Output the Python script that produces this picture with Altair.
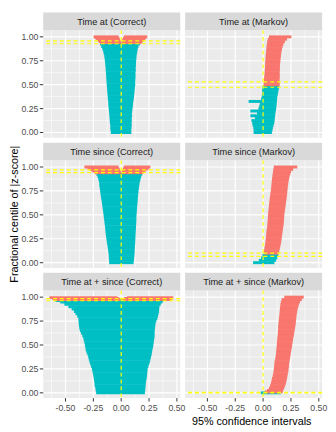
import altair as alt
import pandas as pd

# ---------------- data ----------------
PANELS = [
    "Time at (Correct)", "Time at (Markov)",
    "Time since (Correct)", "Time since (Markov)",
    "Time at + since (Correct)", "Time at + since (Markov)",
]
TRUE_VALUE = [0.0]

# Time at (Correct)
at_c_cent = [0.000, 0.025, 0.050, 0.075, 0.100, 0.125, 0.150, 0.175, 0.200, 0.225,
             0.250, 0.275, 0.300, 0.325, 0.350, 0.375, 0.400, 0.425, 0.450, 0.475,
             0.500, 0.525, 0.550, 0.575, 0.600, 0.625, 0.650, 0.675, 0.700, 0.725,
             0.750, 0.775, 0.800, 0.825, 0.850, 0.875, 0.900, 0.925,
             0.940, 0.940, 0.950, 0.950, 0.960, 0.960, 0.970, 0.970, 0.980, 0.980,
             0.990, 0.990, 1.000, 1.000]
at_c_lo = [-0.093, -0.096, -0.098, -0.097, -0.101, -0.103, -0.104, -0.106, -0.108, -0.110,
           -0.112, -0.114, -0.116, -0.117, -0.120, -0.121, -0.123, -0.125, -0.126, -0.128,
           -0.130, -0.131, -0.133, -0.134, -0.135, -0.137, -0.139, -0.140, -0.142, -0.144,
           -0.146, -0.149, -0.152, -0.157, -0.162, -0.170, -0.180, -0.189,
           -0.190, 0.003, -0.200, 0.006, -0.208, 0.009, -0.216, 0.012, -0.225, 0.016,
           -0.236, 0.020, -0.248, 0.026]
at_c_hi = [0.091, 0.090, 0.092, 0.094, 0.093, 0.095, 0.094, 0.097, 0.096, 0.099,
           0.101, 0.104, 0.106, 0.109, 0.112, 0.115, 0.117, 0.119, 0.121, 0.123,
           0.126, 0.125, 0.127, 0.128, 0.129, 0.128, 0.131, 0.130, 0.132, 0.133,
           0.134, 0.136, 0.138, 0.141, 0.145, 0.149, 0.155, 0.168,
           -0.003, 0.180, -0.006, 0.190, -0.009, 0.198, -0.012, 0.206, -0.016, 0.214,
           -0.020, 0.223, -0.026, 0.234]
at_c_cov = [0.928, 0.957]

# Time at (Markov)
at_m_cent = [0.000, 0.025, 0.050, 0.075, 0.100, 0.125, 0.150, 0.175, 0.200, 0.225,
             0.250, 0.275, 0.300, 0.325, 0.350, 0.375, 0.400, 0.425, 0.450, 0.475,
             0.500, 0.525, 0.550, 0.575, 0.600, 0.625, 0.650, 0.675, 0.700, 0.725,
             0.750, 0.775, 0.800, 0.825, 0.850, 0.875, 0.900, 0.925, 0.950, 0.975,
             1.000]
at_m_lo = [-0.085, -0.085, -0.088, -0.094, -0.098, -0.105, -0.073, -0.114, -0.055, -0.114,
           -0.042, -0.035, -0.029, -0.130, -0.018, -0.012, -0.010, -0.009, -0.008, -0.006,
           0.004, 0.006, 0.008, 0.010, 0.012, 0.014, 0.016, 0.017, 0.018, 0.019,
           0.020, 0.022, 0.023, 0.025, 0.027, 0.029, 0.031, 0.034, 0.037, 0.042,
           0.053]
at_m_hi = [0.079, 0.084, 0.088, 0.094, 0.100, 0.103, 0.105, 0.108, 0.110, 0.114,
           0.117, 0.120, 0.122, 0.124, 0.126, 0.128, 0.132, 0.136, 0.140, 0.145,
           0.149, 0.149, 0.148, 0.149, 0.150, 0.149, 0.150, 0.151, 0.152, 0.153,
           0.155, 0.157, 0.160, 0.162, 0.166, 0.170, 0.176, 0.184, 0.196, 0.215,
           0.254]
at_m_cov = [0.473, 0.530]

# Time since (Correct)
since_c_cent = [0.000, 0.025, 0.050, 0.075, 0.100, 0.125, 0.150, 0.175, 0.200, 0.225,
                0.250, 0.275, 0.300, 0.325, 0.350, 0.375, 0.400, 0.425, 0.450, 0.475,
                0.500, 0.525, 0.550, 0.575, 0.600, 0.625, 0.650, 0.675, 0.700, 0.725,
                0.750, 0.775, 0.800, 0.825, 0.850, 0.875, 0.900, 0.925,
                0.940, 0.940, 0.950, 0.950, 0.960, 0.960, 0.970, 0.970, 0.980, 0.980,
                0.990, 0.990, 1.000, 1.000]
since_c_lo = [-0.108, -0.109, -0.111, -0.112, -0.114, -0.117, -0.120, -0.123, -0.127, -0.130,
              -0.133, -0.136, -0.139, -0.141, -0.143, -0.145, -0.148, -0.150, -0.153, -0.156,
              -0.158, -0.161, -0.164, -0.167, -0.170, -0.173, -0.176, -0.180, -0.183, -0.186,
              -0.189, -0.192, -0.195, -0.197, -0.200, -0.206, -0.213, -0.222,
              -0.236, 0.003, -0.248, 0.006, -0.260, 0.009, -0.272, 0.013, -0.287, 0.017,
              -0.302, 0.021, -0.330, 0.026]
since_c_hi = [0.111, 0.114, 0.116, 0.118, 0.120, 0.121, 0.122, 0.123, 0.125, 0.126,
              0.127, 0.128, 0.129, 0.130, 0.132, 0.133, 0.134, 0.135, 0.136, 0.136,
              0.137, 0.139, 0.141, 0.142, 0.144, 0.146, 0.148, 0.149, 0.151, 0.153,
              0.155, 0.158, 0.161, 0.164, 0.168, 0.174, 0.180, 0.188,
              -0.003, 0.196, -0.006, 0.205, -0.009, 0.215, -0.013, 0.227, -0.017, 0.238,
              -0.021, 0.249, -0.026, 0.262]
since_c_cov = [0.941, 0.970]

# Time since (Markov)
since_m_cent = [0.000, 0.025, 0.050, 0.075, 0.100, 0.125, 0.150, 0.175, 0.200, 0.225,
                0.250, 0.275, 0.300, 0.325, 0.350, 0.375, 0.400, 0.425, 0.450, 0.475,
                0.500, 0.525, 0.550, 0.575, 0.600, 0.625, 0.650, 0.675, 0.700, 0.725,
                0.750, 0.775, 0.800, 0.825, 0.850, 0.875, 0.900, 0.925, 0.950, 0.975,
                1.000]
since_m_lo = [-0.090, -0.038, -0.018, -0.006, 0.004, 0.009, 0.012, 0.016, 0.020, 0.022,
              0.024, 0.026, 0.028, 0.030, 0.033, 0.036, 0.038, 0.040, 0.042, 0.043,
              0.044, 0.046, 0.049, 0.051, 0.053, 0.055, 0.058, 0.060, 0.063, 0.066,
              0.069, 0.072, 0.074, 0.076, 0.078, 0.080, 0.083, 0.086, 0.089, 0.092,
              0.096]
since_m_hi = [0.102, 0.117, 0.128, 0.136, 0.141, 0.146, 0.150, 0.155, 0.160, 0.163,
              0.166, 0.169, 0.172, 0.175, 0.178, 0.181, 0.184, 0.186, 0.188, 0.189,
              0.190, 0.193, 0.196, 0.199, 0.202, 0.205, 0.208, 0.211, 0.214, 0.216,
              0.218, 0.220, 0.222, 0.225, 0.228, 0.232, 0.237, 0.244, 0.252, 0.270,
              0.307]
since_m_cov = [0.066, 0.099]

# Time at + since (Correct)
both_c_cent = [0.000, 0.025, 0.050, 0.075, 0.100, 0.125, 0.150, 0.175, 0.200, 0.225,
               0.250, 0.275, 0.300, 0.325, 0.350, 0.375, 0.400, 0.425, 0.450, 0.475,
               0.500, 0.525, 0.550, 0.575, 0.600, 0.625, 0.650, 0.675, 0.700, 0.725,
               0.750, 0.775, 0.800, 0.825, 0.850, 0.875, 0.900, 0.925, 0.950, 0.965,
               0.975, 0.975, 0.985, 0.985, 0.995, 0.995]
both_c_lo = [-0.225, -0.228, -0.232, -0.238, -0.240, -0.243, -0.246, -0.250, -0.254, -0.258,
             -0.263, -0.270, -0.278, -0.285, -0.291, -0.296, -0.303, -0.312, -0.319, -0.322,
             -0.326, -0.330, -0.336, -0.341, -0.350, -0.362, -0.371, -0.376, -0.379, -0.381,
             -0.383, -0.384, -0.395, -0.410, -0.424, -0.445, -0.474, -0.510, -0.547, -0.590,
             -0.600, 0.006, -0.620, 0.025, -0.645, 0.053]
both_c_hi = [0.213, 0.215, 0.217, 0.219, 0.221, 0.224, 0.228, 0.231, 0.233, 0.235,
             0.237, 0.244, 0.251, 0.258, 0.262, 0.268, 0.273, 0.277, 0.280, 0.285,
             0.289, 0.291, 0.294, 0.298, 0.300, 0.300, 0.301, 0.303, 0.306, 0.308,
             0.315, 0.324, 0.330, 0.335, 0.340, 0.341, 0.343, 0.355, 0.370, 0.378,
             -0.008, 0.445, -0.018, 0.458, -0.035, 0.468]
both_c_cov = [0.962, 0.985]

# Time at + since (Markov)
both_m_cent = [0.000, 0.010, 0.025, 0.050, 0.075, 0.100, 0.125, 0.150, 0.175, 0.200,
               0.225, 0.250, 0.275, 0.300, 0.325, 0.350, 0.375, 0.400, 0.425, 0.450,
               0.475, 0.500, 0.525, 0.550, 0.575, 0.600, 0.625, 0.650, 0.675, 0.700,
               0.725, 0.750, 0.775, 0.800, 0.825, 0.850, 0.875, 0.900, 0.925, 0.950,
               0.975, 1.000]
both_m_lo = [-0.020, 0.015, 0.035, 0.053, 0.063, 0.070, 0.075, 0.080, 0.086, 0.091,
             0.094, 0.097, 0.099, 0.101, 0.103, 0.108, 0.112, 0.115, 0.117, 0.119,
             0.121, 0.123, 0.124, 0.126, 0.128, 0.131, 0.133, 0.134, 0.135, 0.136,
             0.138, 0.140, 0.142, 0.145, 0.147, 0.149, 0.151, 0.153, 0.156, 0.160,
             0.167, 0.190]
both_m_hi = [0.160, 0.175, 0.180, 0.190, 0.198, 0.205, 0.210, 0.214, 0.218, 0.222,
             0.226, 0.229, 0.231, 0.233, 0.236, 0.240, 0.244, 0.247, 0.250, 0.254,
             0.258, 0.261, 0.264, 0.268, 0.271, 0.276, 0.279, 0.283, 0.286, 0.290,
             0.293, 0.295, 0.297, 0.299, 0.302, 0.306, 0.310, 0.316, 0.322, 0.332,
             0.348, 0.365]
both_m_cov = [0.000, 0.006]

# axis ticks and labels
X_MAJOR = [-0.5, -0.25, 0.0, 0.25, 0.5]
X_LABELS = ["-0.50", "-0.25", "0.00", "0.25", "0.50"]
X_MINOR = [-0.625, -0.375, -0.125, 0.125, 0.375]
Y_MAJOR = [0.0, 0.25, 0.5, 0.75, 1.0]
Y_LABELS = ["0.00", "0.25", "0.50", "0.75", "1.00"]
Y_MINOR = [0.125, 0.375, 0.625, 0.875]
X_TITLE = "95% confidence intervals"
Y_TITLE = "Fractional centile of |z-score|"

# ---------------- styling ----------------
W, H, STRIP = 140, 110, 18
FONT = "Liberation Sans"
RED, TEAL, YELLOW = "#F8766D", "#00BFC4", "#FFFF00"
XDOM = [-0.70, 0.53]
YDOM = [-0.055, 1.07]


def panel(idx, cent, lo, hi, cov):
    assert len(cent) == len(lo) == len(hi)
    row, col = divmod(idx, 2)
    name = PANELS[idx]
    df = pd.DataFrame({"cent": cent, "lo": lo, "hi": hi})
    df["status"] = ["Covers" if (a <= 0 <= b) else "Misses" for a, b in zip(lo, hi)]
    xs = alt.Scale(domain=XDOM, nice=False, zero=False)
    ys = alt.Scale(domain=YDOM, nice=False, zero=False)
    xmaj = pd.DataFrame({"v": X_MAJOR, "lab": X_LABELS})
    ymaj = pd.DataFrame({"v": Y_MAJOR, "lab": Y_LABELS})

    layers = []
    # grid
    layers.append(alt.Chart(pd.DataFrame({"v": X_MINOR})).mark_rule(color="white", strokeWidth=0.6)
                  .encode(x=alt.X("v:Q", scale=xs, axis=None)))
    layers.append(alt.Chart(pd.DataFrame({"v": Y_MINOR})).mark_rule(color="white", strokeWidth=0.6)
                  .encode(y=alt.Y("v:Q", scale=ys, axis=None)))
    layers.append(alt.Chart(xmaj).mark_rule(color="white", strokeWidth=1.2)
                  .encode(x=alt.X("v:Q", scale=xs, axis=None)))
    layers.append(alt.Chart(ymaj).mark_rule(color="white", strokeWidth=1.2)
                  .encode(y=alt.Y("v:Q", scale=ys, axis=None)))
    # intervals
    layers.append(alt.Chart(df).mark_rule(strokeWidth=3.0, strokeCap="butt").encode(
        x=alt.X("lo:Q", scale=xs, axis=None),
        x2="hi:Q",
        y=alt.Y("cent:Q", scale=ys, axis=None),
        color=alt.Color("status:N", legend=None,
                        scale=alt.Scale(domain=["Misses", "Covers"], range=[RED, TEAL])),
    ))
    # reference lines
    layers.append(alt.Chart(pd.DataFrame({"cov": cov})).mark_rule(
        color=YELLOW, strokeDash=[4, 3], strokeWidth=1.2
    ).encode(y=alt.Y("cov:Q", scale=ys, axis=None)))
    layers.append(alt.Chart(pd.DataFrame({"truth": TRUE_VALUE})).mark_rule(
        color=YELLOW, strokeDash=[4, 3], strokeWidth=1.2
    ).encode(x=alt.X("truth:Q", scale=xs, axis=None)))
    # strip
    sdf = pd.DataFrame({"label": [name]})
    layers.append(alt.Chart(sdf).mark_rect(color="#D9D9D9").encode(
        x=alt.value(0), x2=alt.value(W), y=alt.value(-STRIP), y2=alt.value(0)))
    layers.append(alt.Chart(sdf).mark_text(
        font=FONT, fontSize=9.4, color="#1A1A1A", baseline="middle", align="center"
    ).encode(x=alt.value(W / 2), y=alt.value(-STRIP / 2 + 0.5), text="label:N"))

    # left axis
    if col == 0:
        layers.append(alt.Chart(ymaj).mark_rule(color="#333333", strokeWidth=1).encode(
            y=alt.Y("v:Q", scale=ys, axis=None), x=alt.value(-3.5), x2=alt.value(0)))
        layers.append(alt.Chart(ymaj).mark_text(
            font=FONT, fontSize=8.9, color="#4D4D4D", align="right", baseline="middle"
        ).encode(y=alt.Y("v:Q", scale=ys, axis=None), x=alt.value(-5), text="lab:N"))
    if row == 1 and col == 0:
        layers.append(alt.Chart(pd.DataFrame({"t": [Y_TITLE]})).mark_text(
            font=FONT, fontSize=11, color="black", angle=270, baseline="middle", align="center"
        ).encode(x=alt.value(-29), y=alt.value(H / 2), text="t:N"))
    # bottom axis
    if row == 2:
        layers.append(alt.Chart(xmaj).mark_rule(color="#333333", strokeWidth=1).encode(
            x=alt.X("v:Q", scale=xs, axis=None), y=alt.value(H), y2=alt.value(H + 3.5)))
        layers.append(alt.Chart(xmaj).mark_text(
            font=FONT, fontSize=8.9, color="#4D4D4D", align="center", baseline="middle"
        ).encode(x=alt.X("v:Q", scale=xs, axis=None), y=alt.value(H + 10), text="lab:N"))
    if row == 2 and col == 1:
        layers.append(alt.Chart(pd.DataFrame({"t": [X_TITLE]})).mark_text(
            font=FONT, fontSize=11, color="black", baseline="middle", align="center"
        ).encode(x=alt.value(W / 2 - 2), y=alt.value(H + 24), text="t:N"))
    return alt.layer(*layers).properties(width=W, height=H)


charts = [
    panel(0, at_c_cent, at_c_lo, at_c_hi, at_c_cov),
    panel(1, at_m_cent, at_m_lo, at_m_hi, at_m_cov),
    panel(2, since_c_cent, since_c_lo, since_c_hi, since_c_cov),
    panel(3, since_m_cent, since_m_lo, since_m_hi, since_m_cov),
    panel(4, both_c_cent, both_c_lo, both_c_hi, both_c_cov),
    panel(5, both_m_cent, both_m_lo, both_m_hi, both_m_cov),
]

chart = alt.concat(
    *charts, columns=2, spacing={"row": STRIP + 5, "column": 5}, bounds="flush"
).properties(
    padding={"left": 0, "top": 0, "right": 0, "bottom": 0}
).configure_view(
    fill="#EBEBEB", stroke=None
)

chart.save("out.html", embed_options={"renderer": "svg", "actions": False})
